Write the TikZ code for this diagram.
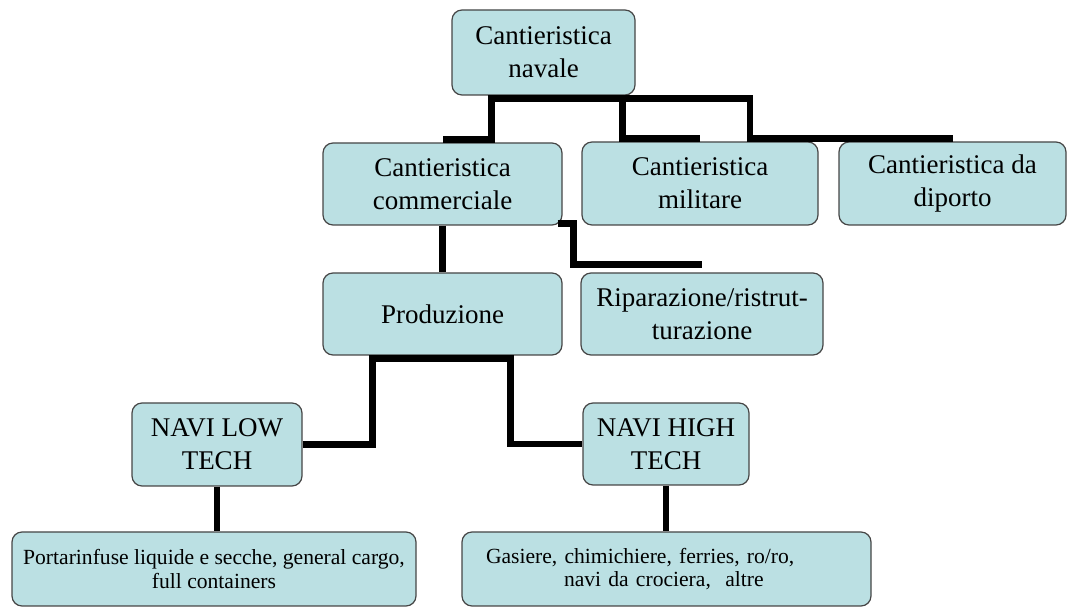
\documentclass[tikz,border=0pt]{standalone}
\usepackage{fontspec}
\setmainfont{Liberation Serif}
\usetikzlibrary{positioning}
\definecolor{boxfill}{RGB}{187,224,227}
\definecolor{boxline}{RGB}{70,70,70}
\tikzset{
    mybox/.style = {rectangle, rounded corners=5pt, draw=boxline, line width=0.6pt, fill=boxfill, align=center, inner sep=2pt, font=\fontsize{13.5}{16.5}\selectfont},
    mylist/.style = {mybox, font=\fontsize{10.8}{11.8}\selectfont, minimum height=37pt},
    link/.style = {line width=3.2pt, draw=black, line join=miter},
}
\begin{document}
\begin{tikzpicture}[x=0.5pt,y=-0.5pt]
\useasboundingbox (0,0) rectangle (1067,608);
\node[mybox, minimum width=91.5pt, minimum height=42.5pt] at (543.5, 52.5) (nav) {Cantieristica\\navale};

\node[mybox, minimum width=119.5pt, minimum height=41pt] at (442.5,184.0) (comm) {Cantieristica\\commerciale};
\node[mybox, minimum width=118pt, minimum height=41.5pt] at (700.0,183.5) (mil) {Cantieristica\\militare};
\node[mybox, minimum width=113.5pt, minimum height=41.5pt] at (952.5,183.5) (dip) {Cantieristica da\\diporto};

\node[mybox, minimum width=119.5pt, minimum height=41pt] at (442.5,314.0) (prod) {Produzione};
\node[mybox, minimum width=121pt, minimum height=41pt] at (702.0,314.0) (rip) {Riparazione/ristrut-\\turazione};

\node[mybox, minimum width=85pt, minimum height=41.5pt] at (217.0,444.5) (low) {NAVI LOW\\TECH};
\node[mybox, minimum width=83pt, minimum height=41pt] at (666.0,444.0) (high) {NAVI HIGH\\TECH};

\node[mylist, minimum width=202pt] at (214.0,569.0) (lowl) {Portarinfuse liquide e secche, general cargo,\\full containers};
\node[mylist, text width=180.5pt, inner xsep=12pt, align=left] at (666.5,569.0) (highl) {Gasiere, chimichiere, ferries, ro/ro,\\\hspace*{39pt}navi da crociera,\ \ altre};
%
\draw[link] ([xshift=20pt,yshift=-1.5pt]nav.south west) |- ([yshift=1.5pt]comm.north);
\draw[link] ([xshift=-6.5pt,yshift=-1.5pt]nav.south east) |- ([yshift=1.5pt]mil.north);
\draw[link] ([xshift=18.5pt,yshift=-1.5pt]nav.south west) -| ([xshift=25pt,yshift=1.5pt]mil.north) -- ([yshift=1.5pt]dip.north);
\draw[link] (comm.south) -- (prod.north);
\draw[link] ([xshift=-2.5pt,yshift=1pt]comm.south east) -- ++(8pt,0) |- ([yshift=4pt]rip.north);
\draw[link] (low.east) -| ([xshift=-35pt,yshift=-1.5pt]prod.south) -- ([xshift=34pt,yshift=-1.5pt]prod.south) |- (high.west);
\draw[link] (low.south) -- (low.south |- lowl.north);
\draw[link] (high.south) -- (high.south |- highl.north);
\end{tikzpicture}
\end{document}
